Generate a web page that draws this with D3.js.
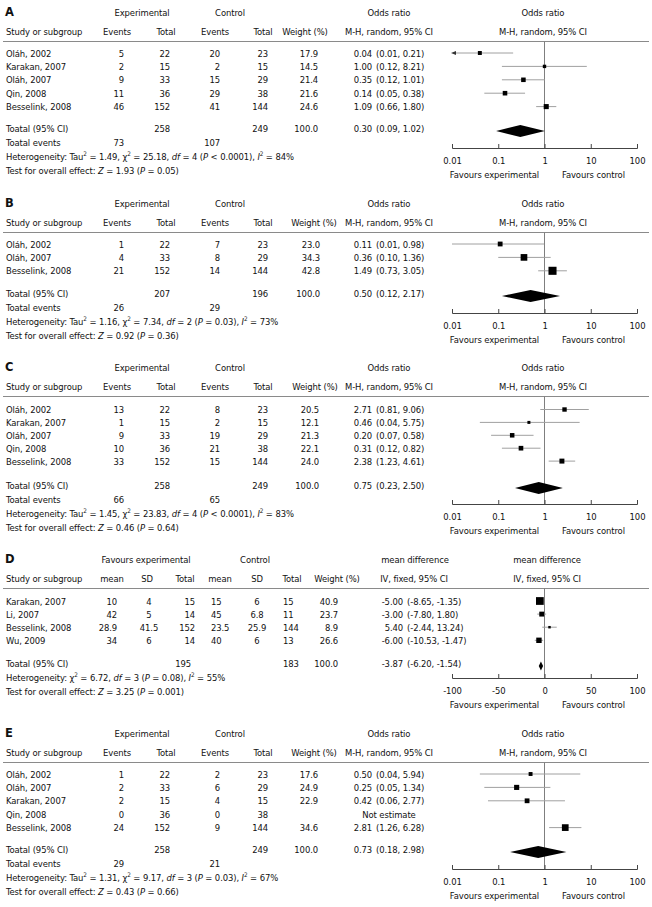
<!DOCTYPE html>
<html><head><meta charset="utf-8">
<script src="https://cdn.jsdelivr.net/npm/d3@7"></script>
<style>
body{margin:0;background:#fff}
svg text{font-family:"DejaVu Sans Condensed","DejaVu Sans",sans-serif;font-size:9.4px;letter-spacing:-0.1px;fill:#111}
</style></head>
<body><svg id="c" width="652" height="907"></svg>
<script>
// ---------- axis ticks ----------
const orTicks=[0.01,0.1,1,10,100];
const orTickLabels=["0.01","0.1","1","10","100"];
const mdTicks=[-100,-50,0,50,100];
const mdTickLabels=["-100","-50","0","50","100"];

// ---------- Panel A ----------
const aStudies=["Oláh, 2002","Karakan, 2007","Oláh, 2007","Qin, 2008","Besselink, 2008"];
const aExpEvents=[5,2,9,11,46], aExpTotal=[22,15,33,36,152];
const aCtlEvents=[20,2,15,29,41], aCtlTotal=[23,15,29,38,144];
const aWeight=[17.9,14.5,21.4,21.6,24.6];
const aOR=[0.04,1.00,0.35,0.14,1.09], aLo=[0.01,0.12,0.12,0.05,0.66], aHi=[0.21,8.21,1.01,0.38,1.80];
const aArrow=[true,false,false,false,false];
const aTotal={exp:258,ctl:249,weight:100.0,or:0.30,lo:0.09,hi:1.02,expEv:73,ctlEv:107};
const aHet="Heterogeneity: Tau^2 = 1.49, χ^2 = 25.18, _df_ = 4 (_P_ < 0.0001), _I_^2 = 84%";
const aTest="Test for overall effect: _Z_ = 1.93 (_P_ = 0.05)";

// ---------- Panel B ----------
const bStudies=["Oláh, 2002","Oláh, 2007","Besselink, 2008"];
const bExpEvents=[1,4,21], bExpTotal=[22,33,152];
const bCtlEvents=[7,8,14], bCtlTotal=[23,29,144];
const bWeight=[23.0,34.3,42.8];
const bOR=[0.11,0.36,1.49], bLo=[0.01,0.10,0.73], bHi=[0.98,1.36,3.05];
const bArrow=[false,false,false];
const bTotal={exp:207,ctl:196,weight:100.0,or:0.50,lo:0.12,hi:2.17,expEv:26,ctlEv:29};
const bHet="Heterogeneity: Tau^2 = 1.16, χ^2 = 7.34, _df_ = 2 (_P_ = 0.03), _I_^2 = 73%";
const bTest="Test for overall effect: _Z_ = 0.92 (_P_ = 0.36)";

// ---------- Panel C ----------
const cStudies=["Oláh, 2002","Karakan, 2007","Oláh, 2007","Qin, 2008","Besselink, 2008"];
const cExpEvents=[13,1,9,10,33], cExpTotal=[22,15,33,36,152];
const cCtlEvents=[8,2,19,21,15], cCtlTotal=[23,15,29,38,144];
const cWeight=[20.5,12.1,21.3,22.1,24.0];
const cOR=[2.71,0.46,0.20,0.31,2.38], cLo=[0.81,0.04,0.07,0.12,1.23], cHi=[9.06,5.75,0.58,0.82,4.61];
const cArrow=[false,false,false,false,false];
const cTotal={exp:258,ctl:249,weight:100.0,or:0.75,lo:0.23,hi:2.50,expEv:66,ctlEv:65};
const cHet="Heterogeneity: Tau^2 = 1.45, χ^2 = 23.83, _df_ = 4 (_P_ < 0.0001), _I_^2 = 83%";
const cTest="Test for overall effect: _Z_ = 0.46 (_P_ = 0.64)";

// ---------- Panel D (mean difference) ----------
const dStudies=["Karakan, 2007","Li, 2007","Besselink, 2008","Wu, 2009"];
const dExpMean=[10,42,28.9,34], dExpSD=[4,5,41.5,6], dExpTotal=[15,14,152,14];
const dCtlMean=[15,45,23.5,40], dCtlSD=[6,6.8,25.9,6], dCtlTotal=[15,11,144,13];
const dWeight=[40.9,23.7,8.9,26.6];
const dMD=[-5.00,-3.00,5.40,-6.00], dLo=[-8.65,-7.80,-2.44,-10.53], dHi=[-1.35,1.80,13.24,-1.47];
const dTotal={exp:195,ctl:183,weight:100.0,md:-3.87,lo:-6.20,hi:-1.54};
const dHet="Heterogeneity: χ^2 = 6.72, _df_ = 3 (_P_ = 0.08), _I_^2 = 55%";
const dTest="Test for overall effect: _Z_ = 3.25 (_P_ = 0.001)";

// ---------- Panel E ----------
const eStudies=["Oláh, 2002","Oláh, 2007","Karakan, 2007","Qin, 2008","Besselink, 2008"];
const eExpEvents=[1,2,2,0,24], eExpTotal=[22,33,15,36,152];
const eCtlEvents=[2,6,4,0,9], eCtlTotal=[23,29,15,38,144];
const eWeight=[17.6,24.9,22.9,null,34.6];
const eOR=[0.50,0.25,0.42,null,2.81], eLo=[0.04,0.05,0.06,null,1.26], eHi=[5.94,1.34,2.77,null,6.28];
const eArrow=[false,false,false,false,false];
const eTotal={exp:258,ctl:249,weight:100.0,or:0.73,lo:0.18,hi:2.98,expEv:29,ctlEv:21};
const eHet="Heterogeneity: Tau^2 = 1.31, χ^2 = 9.17, _df_ = 3 (_P_ = 0.03), _I_^2 = 67%";
const eTest="Test for overall effect: _Z_ = 0.43 (_P_ = 0.66)";

// ---------- helpers ----------
const svg=d3.select('#c');
function t(g,x,y,s,anchor){
  return g.append('text').attr('x',x).attr('y',y).attr('text-anchor',anchor||'start')
    .attr('dominant-baseline','central').text(s);
}
function rich(g,x,y,str){
  const el=g.append('text').attr('x',x).attr('y',y).attr('dominant-baseline','central');
  let pend=0;
  str.split(/(\^2|_[^_]+_)/).forEach(p=>{
    if(!p) return;
    if(p==='^2'){
      el.append('tspan').attr('dy',-3.5+pend).style('font-size','6.3px').text('2');
      pend=3.5; return;
    }
    const ts=el.append('tspan');
    if(pend){ts.attr('dy',pend);pend=0;}
    if(p[0]==='_'&&p.length>2){ts.style('font-style','italic').text(p.slice(1,-1));}
    else ts.text(p);
  });
  return el;
}
const f1=v=>v.toFixed(1), f2=v=>v.toFixed(2);
const sq=w=>1+0.165*w;

function drawPlot(g,x,ticks,labels,ref,L,rows,tot,diaHalf){
  const yAx=L.axis;
  g.append('line').attr('x1',x(ref)).attr('x2',x(ref)).attr('y1',L.y0+29.5).attr('y2',yAx)
    .attr('stroke','#7f7f7f').attr('stroke-width',1);
  const [r0]=x.range();
  rows.forEach(r=>{
    if(r.est==null) return;
    const xs=r.arrow? r0+4 : x(r.lo);
    g.append('line').attr('x1',xs).attr('x2',x(r.hi)).attr('y1',r.y).attr('y2',r.y)
      .attr('stroke','#a0a0a0').attr('stroke-width',1);
    if(r.arrow){
      g.append('path').attr('d',`M${r0-1},${r.y}L${r0+4},${r.y-2}L${r0+4},${r.y+2}Z`).attr('fill','#333');
    }
    const s=sq(r.w);
    g.append('rect').attr('x',x(r.est)-s/2).attr('y',r.y-s/2).attr('width',s).attr('height',s).attr('fill','#000');
  });
  const yd=L.tot+3;
  g.append('path').attr('d',`M${x(tot.lo)},${yd}L${x(tot.est)},${yd-diaHalf}L${x(tot.hi)},${yd}L${x(tot.est)},${yd+diaHalf}Z`)
    .attr('fill','#000');
  const ax=d3.axisBottom(x).tickValues(ticks).tickFormat((d,i)=>labels[i])
    .tickSizeInner(-4).tickSizeOuter(-4).tickPadding(9);
  const ag=g.append('g').attr('transform',`translate(0,${yAx})`).call(ax);
  ag.attr('font-family',null).attr('font-size',null);
  ag.selectAll('path,line').attr('stroke','#444');
  t(g,539,yAx+26,'Favours experimental','end');
  t(g,562,yAx+26,'Favours control','start');
}

function drawOR(label,studies,expEv,expTot,ctlEv,ctlTot,w,est,lo,hi,arrow,tot,het,test,L){
  const g=svg.append('g');
  const y0=L.y0, yH2=y0+19.5, ySep=y0+29.5;
  const yRow=i=>L.row0+i*L.step;
  t(g,5,y0,label).style('font-weight','bold').style('font-size','11.5px').style('font-family','"DejaVu Sans",sans-serif');
  t(g,142,y0,'Experimental','middle'); t(g,230,y0,'Control','middle');
  t(g,389,y0,'Odds ratio','middle'); t(g,543,y0,'Odds ratio','middle');
  t(g,6,yH2,'Study or subgroup'); t(g,117,yH2,'Events','middle'); t(g,166,yH2,'Total','middle');
  t(g,215,yH2,'Events','middle'); t(g,263,yH2,'Total','middle'); t(g,L.wCx,yH2,'Weight (%)','middle');
  t(g,389,yH2,'M-H, random, 95% CI','middle'); t(g,543,yH2,'M-H, random, 95% CI','middle');
  g.append('line').attr('x1',3).attr('x2',649).attr('y1',ySep).attr('y2',ySep).attr('stroke','#8a8a8a');
  const rows=[];
  studies.forEach((s,i)=>{
    const y=yRow(i);
    t(g,6,y,s); t(g,124,y,expEv[i],'end'); t(g,170,y,expTot[i],'end');
    t(g,220,y,ctlEv[i],'end'); t(g,268,y,ctlTot[i],'end');
    if(w[i]!=null) t(g,L.wR,y,f1(w[i]),'end');
    if(est[i]!=null){ t(g,372,y,f2(est[i]),'end'); t(g,376,y,`(${f2(lo[i])}, ${f2(hi[i])})`,'start'); }
    else t(g,389,y,'Not estimate','middle');
    rows.push({y,est:est[i],lo:lo[i],hi:hi[i],w:w[i],arrow:arrow[i]});
  });
  const yT=L.tot, yE=yT+14, yHet=yE+14, yTest=yHet+13.5;
  t(g,6,yT,'Toatal (95% CI)'); t(g,170,yT,tot.exp,'end'); t(g,268,yT,tot.ctl,'end');
  t(g,L.wR,yT,f1(tot.weight),'end'); t(g,372,yT,f2(tot.or),'end'); t(g,376,yT,`(${f2(tot.lo)}, ${f2(tot.hi)})`,'start');
  t(g,6,yE,'Toatal events'); t(g,124,yE,tot.expEv,'end'); t(g,220,yE,tot.ctlEv,'end');
  rich(g,6,yHet,het); rich(g,6,yTest,test);
  const x=d3.scaleLog().domain([0.01,100]).range([452,637]);
  drawPlot(g,x,orTicks,orTickLabels,1,L,rows,{est:tot.or,lo:tot.lo,hi:tot.hi},6);
}

function drawMD(L){
  const g=svg.append('g');
  const y0=L.y0, yH2=y0+19.5, ySep=y0+29.5;
  const yRow=i=>L.row0+i*L.step;
  t(g,5,y0,'D').style('font-weight','bold').style('font-size','11.5px').style('font-family','"DejaVu Sans",sans-serif');
  t(g,146,y0,'Favours experimental','middle'); t(g,255,y0,'Control','middle');
  t(g,415,y0,'mean difference','middle'); t(g,547,y0,'mean difference','middle');
  t(g,6,yH2,'Study or subgroup'); t(g,112,yH2,'mean','middle'); t(g,147,yH2,'SD','middle'); t(g,185,yH2,'Total','middle');
  t(g,220,yH2,'mean','middle'); t(g,257,yH2,'SD','middle'); t(g,292,yH2,'Total','middle');
  t(g,337,yH2,'Weight (%)','middle'); t(g,414,yH2,'IV, fixed, 95% CI','middle'); t(g,547,yH2,'IV, fixed, 95% CI','middle');
  g.append('line').attr('x1',3).attr('x2',649).attr('y1',ySep).attr('y2',ySep).attr('stroke','#8a8a8a');
  const rows=[];
  dStudies.forEach((s,i)=>{
    const y=yRow(i);
    t(g,6,y,s); t(g,117,y,dExpMean[i],'end'); t(g,149,y,dExpSD[i],'middle'); t(g,195,y,dExpTotal[i],'end');
    t(g,211,y,dCtlMean[i],'start'); t(g,257,y,dCtlSD[i],'middle'); t(g,283,y,dCtlTotal[i],'start');
    t(g,338,y,f1(dWeight[i]),'end');
    t(g,403,y,f2(dMD[i]),'end'); t(g,407,y,`(${f2(dLo[i])}, ${f2(dHi[i])})`,'start');
    rows.push({y,est:dMD[i],lo:dLo[i],hi:dHi[i],w:dWeight[i],arrow:false});
  });
  const yT=L.tot, yHet=yT+14, yTest=yHet+13.5;
  t(g,6,yT,'Toatal (95% CI)'); t(g,191,yT,dTotal.exp,'end'); t(g,283,yT,dTotal.ctl,'start');
  t(g,338,yT,f1(dTotal.weight),'end'); t(g,403,yT,f2(dTotal.md),'end'); t(g,407,yT,`(${f2(dTotal.lo)}, ${f2(dTotal.hi)})`,'start');
  rich(g,6,yHet,dHet); rich(g,6,yTest,dTest);
  const x=d3.scaleLinear().domain([-100,100]).range([452,637]);
  drawPlot(g,x,mdTicks,mdTickLabels,0,L,rows,{est:dTotal.md,lo:dTotal.lo,hi:dTotal.hi},4.5);
}

// ---------- layout (positions only) ----------
const LA={y0:12, row0:53, step:13.4, tot:128, axis:148, wCx:305, wR:318};
const LB={y0:203, row0:244, step:13.4, tot:293, axis:313, wCx:314, wR:320};
const LC={y0:367, row0:409.5, step:12.9, tot:485, axis:504, wCx:315, wR:319};
const LD={y0:559, row0:601, step:13.1, tot:663, axis:678};
const LE={y0:733, row0:774, step:13.4, tot:849, axis:869, wCx:314, wR:318};

drawOR('A',aStudies,aExpEvents,aExpTotal,aCtlEvents,aCtlTotal,aWeight,aOR,aLo,aHi,aArrow,aTotal,aHet,aTest,LA);
drawOR('B',bStudies,bExpEvents,bExpTotal,bCtlEvents,bCtlTotal,bWeight,bOR,bLo,bHi,bArrow,bTotal,bHet,bTest,LB);
drawOR('C',cStudies,cExpEvents,cExpTotal,cCtlEvents,cCtlTotal,cWeight,cOR,cLo,cHi,cArrow,cTotal,cHet,cTest,LC);
drawMD(LD);
drawOR('E',eStudies,eExpEvents,eExpTotal,eCtlEvents,eCtlTotal,eWeight,eOR,eLo,eHi,eArrow,eTotal,eHet,eTest,LE);
</script></body></html>
